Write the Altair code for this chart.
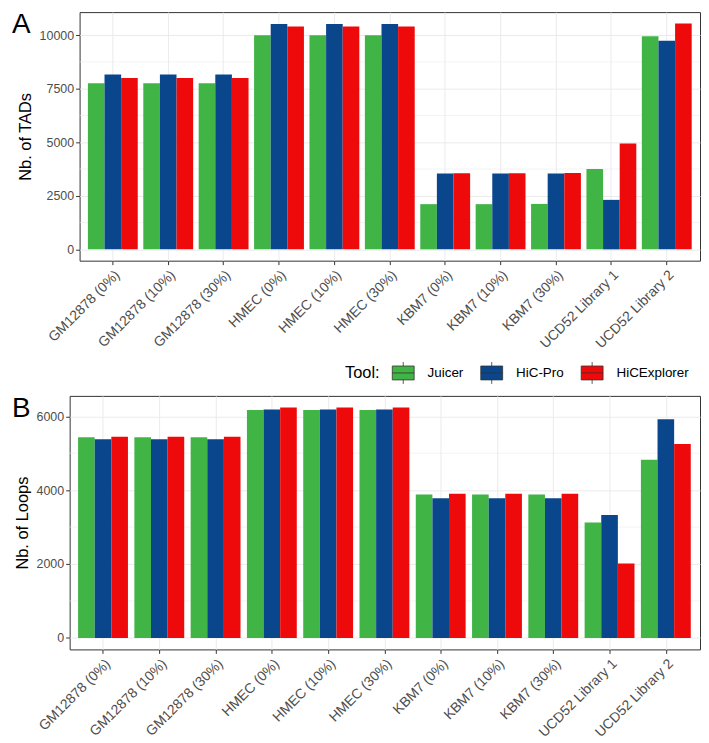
import altair as alt
import pandas as pd

categories = ["GM12878 (0%)", "GM12878 (10%)", "GM12878 (30%)",
              "HMEC (0%)", "HMEC (10%)", "HMEC (30%)",
              "KBM7 (0%)", "KBM7 (10%)", "KBM7 (30%)",
              "UCD52 Library 1", "UCD52 Library 2"]
tools = ["Juicer", "HiC-Pro", "HiCExplorer"]
tool_colors = ["#41B446", "#0A468C", "#EE0A0A"]

tads_juicer = [7750, 7750, 7750, 9990, 9990, 9990, 2110, 2110, 2120, 3745, 9940]
tads_hicpro = [8160, 8160, 8160, 10520, 10520, 10520, 3540, 3540, 3540, 2310, 9730]
tads_hicexplorer = [7995, 7995, 7995, 10395, 10395, 10395, 3550, 3550, 3560, 4940, 10545]

loops_juicer = [5435, 5435, 5435, 6170, 6170, 6170, 3880, 3880, 3880, 3125, 4820]
loops_hicpro = [5375, 5375, 5375, 6185, 6185, 6185, 3780, 3780, 3780, 3325, 5920]
loops_hicexplorer = [5445, 5445, 5445, 6240, 6240, 6240, 3905, 3905, 3905, 2015, 5250]

tads_major = [0, 2500, 5000, 7500, 10000]
tads_minor = [1250, 3750, 6250, 8750]
loops_major = [0, 2000, 4000, 6000]
loops_minor = [1000, 3000, 5000]

FONT = "Liberation Sans"


def long_df(series):
    rows = []
    for tool, vals in zip(tools, series):
        for c, v in zip(categories, vals):
            rows.append({"Category": c, "Tool": tool, "value": v})
    return pd.DataFrame(rows)


def panel(series, ytitle, major, minor, letter, letter_x, width, height, legend):
    df = long_df(series)
    vmax = df["value"].max()
    dom = [-0.05 * vmax, 1.05 * vmax]
    yscale = alt.Scale(domain=dom, nice=False, zero=False)
    yaxis = alt.Axis(title=ytitle, values=major, format="d", tickSize=4,
                     labelPadding=2, titlePadding=6)

    minor_layer = alt.Chart(pd.DataFrame({"v": minor})).mark_rule(
        color="#EBEBEB", strokeWidth=0.6
    ).encode(y=alt.Y("v:Q", scale=yscale, axis=yaxis))

    bars = alt.Chart(df).mark_bar().encode(
        x=alt.X("Category:N", sort=categories,
                scale=alt.Scale(paddingInner=0.1, paddingOuter=0.15),
                axis=alt.Axis(title=None, labelAngle=-45, labelAlign="right",
                              labelBaseline="top", bandPosition=0.5, grid=True,
                              labelPadding=3, tickSize=4, labelFontSize=14)),
        xOffset=alt.XOffset("Tool:N", sort=tools,
                            scale=alt.Scale(paddingInner=0, paddingOuter=0)),
        y=alt.Y("value:Q", scale=yscale, stack=None, axis=yaxis),
        y2=alt.datum(0),
        color=alt.Color("Tool:N", scale=alt.Scale(domain=tools, range=tool_colors),
                        legend=legend),
    )

    text = alt.Chart(pd.DataFrame({"t": [letter]})).mark_text(
        font=FONT, fontSize=28, align="left", baseline="top", color="black"
    ).encode(x=alt.value(letter_x), y=alt.value(-1), text="t:N")

    return alt.layer(minor_layer, bars, text).properties(width=width, height=height)


def spacer():
    return alt.Chart(pd.DataFrame({"a": [0]})).mark_point(opacity=0, size=1).properties(
        width=1, height=1, view=alt.ViewBackground(stroke="transparent"))


legend_path = "M-1,-0.636H1V0.636H-1Z M-1,0H1 M0,-1V-0.636 M0,0.636V1"
leg = alt.Legend(
    title="Tool:", orient="none", legendX=277, legendY=-35,
    direction="horizontal", titleOrient="left",
    symbolType=legend_path, symbolSize=484,
    symbolStrokeColor="#333333", symbolStrokeWidth=0.8, symbolOpacity=1,
    labelOffset=13, columnPadding=14, titlePadding=12,
    labelFont=FONT, titleFont=FONT, labelFontSize=13.5, titleFontSize=16.5,
    titleFontWeight="normal", labelColor="black", titleColor="black",
)

top = panel([tads_juicer, tads_hicpro, tads_hicexplorer], "Nb. of TADs",
            tads_major, tads_minor, "A", -68, 624, 250, None)
bottom = panel([loops_juicer, loops_hicpro, loops_hicexplorer], "Nb. of Loops",
               loops_major, loops_minor, "B", -58, 634, 255, leg)

row_top = alt.HConcatChart(hconcat=[spacer(), top], spacing=0).resolve_scale(
    color="independent")
row_bottom = alt.HConcatChart(hconcat=[spacer(), bottom], spacing=0).resolve_scale(
    color="independent")

chart = alt.VConcatChart(vconcat=[row_top, row_bottom], spacing=8,
                         padding=0).resolve_scale(color="independent").configure_view(
    stroke="#333333", strokeWidth=1
).configure_axis(
    labelFont=FONT, titleFont=FONT, labelFontSize=12.5, titleFontSize=16.5,
    labelColor="#4D4D4D", titleColor="black", titleFontWeight="normal",
    gridColor="#EBEBEB", gridWidth=1, domain=False, tickColor="#333333",
    tickWidth=1,
)

chart.save("out.html", embed_options={"renderer": "svg", "actions": False})
